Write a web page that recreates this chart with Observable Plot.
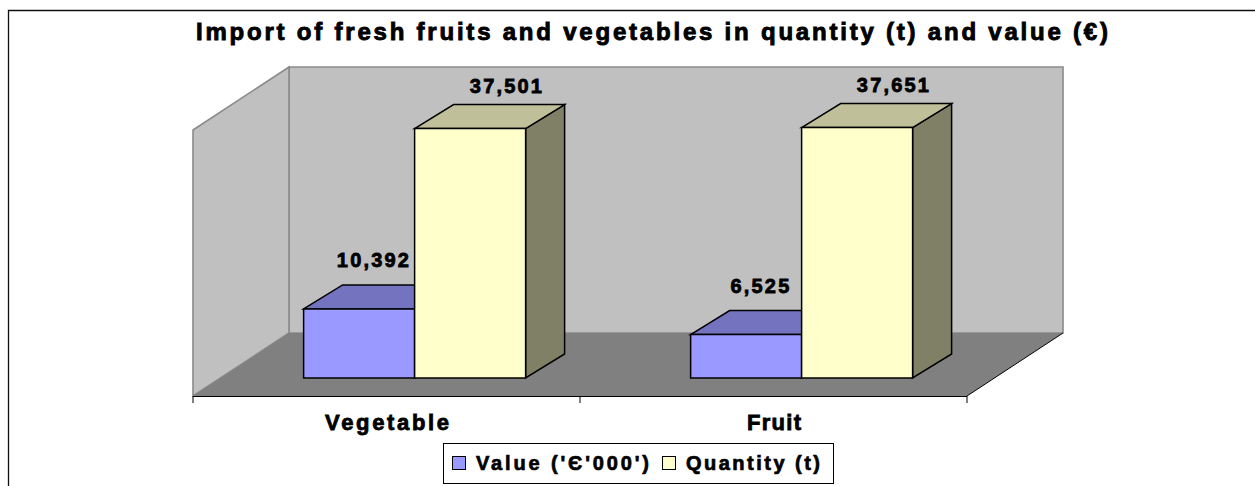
<!DOCTYPE html>
<html>
<head>
<meta charset="utf-8">
<script src="https://cdn.jsdelivr.net/npm/d3@7"></script>
<script src="https://cdn.jsdelivr.net/npm/@observablehq/plot@0.6"></script>
<style>
  body { margin: 0; background: #fff; }
  #chart { position: relative; width: 1255px; height: 486px; overflow: hidden; }
  #chart svg { display: block; }
</style>
</head>
<body>
<div id="chart"></div>
<script>
// ---- data ----
const chartTitle = "Import of fresh fruits and vegetables in quantity (t) and value (€)";
const categories = ["Vegetable", "Fruit"];
const seriesNames = ["Value ('Є'000')", "Quantity (t)"];
const valueThousandEuro = [10392, 6525];
const quantityTonnes = [37501, 37651];
const yMax = 40000;
const seriesColors = ["#9999FF", "#FFFFCC"];

const rows = categories.flatMap((c, i) => [
  {category: c, series: seriesNames[0], s: 0, amount: valueThousandEuro[i]},
  {category: c, series: seriesNames[1], s: 1, amount: quantityTonnes[i]}
]);

// ---- style / 3D projection constants ----
const FONT = "'Liberation Sans', Arial, Helvetica, sans-serif";
const WALL = {dx: 96, dy: -63};
const BAR_FRONT = {dx: 28, dy: -18};
const BAR_DEPTH = {dx: 39, dy: -24};
const BAR_START = 0.2135, BAR_WIDTH = 0.2868;
const fmt = d3.format(",");

function poly(g, pts, fill, stroke, sw) {
  g.append("path")
    .attr("d", "M" + pts.map(p => p[0] + "," + p[1]).join("L") + "Z")
    .attr("fill", fill)
    .attr("stroke", stroke || "none")
    .attr("stroke-width", sw || 0)
    .attr("stroke-linejoin", "miter");
}

function bandwidthOf(scales, dims) {
  if (scales.x && typeof scales.x.bandwidth === "function") return scales.x.bandwidth();
  return (dims.width - dims.marginLeft - dims.marginRight) / categories.length;
}

function walls(index, scales, values, dims) {
  const g = d3.create("svg:g");
  const L = dims.marginLeft, R = dims.width - dims.marginRight;
  const B = scales.y(0), T = scales.y(yMax);
  const {dx, dy} = WALL;
  poly(g, [[L + dx, T + dy], [R + dx, T + dy], [R + dx, B + dy], [L + dx, B + dy]], "#C0C0C0", "#8A8A8A", 1.6);
  poly(g, [[L, B], [L, T], [L + dx, T + dy], [L + dx, B + dy]], "#C0C0C0", "#8A8A8A", 1.6);
  poly(g, [[L, B], [R, B], [R + dx, B + dy], [L + dx, B + dy]], "#808080");
  g.append("line").attr("x1", R).attr("y1", B).attr("x2", R + dx).attr("y2", B + dy)
    .attr("stroke", "#000").attr("stroke-width", 1);
  const bw = bandwidthOf(scales, dims);
  const edges = categories.map(c => scales.x(c)).concat([scales.x(categories[categories.length - 1]) + bw]);
  for (const x of edges) {
    g.append("line").attr("x1", x).attr("x2", x).attr("y1", B).attr("y2", B + 7)
      .attr("stroke", "#000").attr("stroke-width", 1);
  }
  return g.node();
}

function bars3D(index, scales, values, dims) {
  const g = d3.create("svg:g");
  const bw = bandwidthOf(scales, dims);
  const {dx, dy} = BAR_DEPTH;
  for (const i of index) {
    const s = rows[i].s;
    const w = bw * BAR_WIDTH;
    const x0 = values.x[i] + bw * (BAR_START + s * BAR_WIDTH) + BAR_FRONT.dx;
    const x1 = x0 + w;
    const yb = values.y1[i] + BAR_FRONT.dy;
    const yt = values.y2[i] + BAR_FRONT.dy;
    const c = d3.rgb(values.fill[i]);
    const shade = k => d3.rgb(c.r * k, c.g * k, c.b * k).formatHex();
    poly(g, [[x1, yt], [x1 + dx, yt + dy], [x1 + dx, yb + dy], [x1, yb]], shade(0.5), "#000", 1.5);
    poly(g, [[x0, yt], [x0 + dx, yt + dy], [x1 + dx, yt + dy], [x1, yt]], shade(0.75), "#000", 1.5);
    poly(g, [[x0, yt], [x1, yt], [x1, yb], [x0, yb]], c.formatHex(), "#000", 1.5);
  }
  return g.node();
}

const labelStyle = {fontSize: 20, fontWeight: "bold", fill: "#000", lineAnchor: "bottom", text: d => fmt(d.amount)};

const svg = Plot.plot({
  width: 1255,
  height: 486,
  marginLeft: 193,
  marginRight: 288,
  marginTop: 130,
  marginBottom: 90,
  style: {fontFamily: FONT, background: "#fff", overflow: "visible"},
  x: {domain: categories, padding: 0, axis: null},
  y: {domain: [0, yMax], axis: null},
  color: {domain: seriesNames, range: seriesColors},
  marks: [
    Plot.ruleY([0], {render: walls}),
    Plot.barY(rows, {x: "category", y1: 0, y2: "amount", fill: "series", render: bars3D}),
    Plot.ruleY([0], {stroke: "#000", strokeWidth: 1.2}),
    Plot.text(rows.filter(d => d.s === 0), {...labelStyle, x: "category", y: "amount", dx: -13, dy: -60}),
    Plot.text(rows.filter(d => d.s === 1), {...labelStyle, x: "category", y: "amount", dx: 120, dy: -54}),
    Plot.text(categories, {x: d => d, frameAnchor: "bottom", dy: 33, lineAnchor: "bottom",
      fontSize: 22, fontWeight: "bold", fill: "#000", text: d => d})
  ]
});

const root = d3.select(svg);
// text weight / spacing tuning
root.selectAll("text").each(function () {
  const t = this.textContent;
  const sel = d3.select(this);
  if (/^[\d,]+$/.test(t)) sel.attr("letter-spacing", "2.2px").attr("stroke", "#000").attr("stroke-width", 0.8);
  if (t === "Vegetable") sel.attr("textLength", 124).attr("lengthAdjust", "spacing").attr("stroke", "#000").attr("stroke-width", 0.8);
  if (t === "Fruit") sel.attr("textLength", 54).attr("lengthAdjust", "spacing").attr("stroke", "#000").attr("stroke-width", 0.8);
});

// outer chart border
root.append("path").attr("d", "M8.5,490V10.5H1260").attr("fill", "none")
  .attr("stroke", "#111").attr("stroke-width", 1.3);

// title
root.append("text").attr("x", 652).attr("y", 40).attr("text-anchor", "middle")
  .attr("font-family", FONT).attr("font-size", 24).attr("font-weight", "bold").attr("fill", "#000")
  .attr("stroke", "#000").attr("stroke-width", 0.9)
  .attr("textLength", 912).attr("lengthAdjust", "spacing").text(chartTitle);

// legend
const lg = root.append("g").attr("font-family", FONT).attr("font-size", 20).attr("font-weight", "bold")
  .attr("text-anchor", "start");
lg.append("rect").attr("x", 443.5).attr("y", 443.5).attr("width", 390).attr("height", 40)
  .attr("fill", "#fff").attr("stroke", "#000").attr("stroke-width", 1);
const legendItems = [
  {x: 452.5, tx: 476, len: 173},
  {x: 662.5, tx: 686, len: 134}
];
legendItems.forEach((it, k) => {
  lg.append("rect").attr("x", it.x).attr("y", 456.5).attr("width", 13).attr("height", 13)
    .attr("fill", seriesColors[k]).attr("stroke", "#000").attr("stroke-width", 1);
  lg.append("text").attr("x", it.tx).attr("y", 469.5).attr("fill", "#000")
    .attr("stroke", "#000").attr("stroke-width", 0.7).attr("text-anchor", "start")
    .attr("textLength", it.len).attr("lengthAdjust", "spacing").text(seriesNames[k]);
});

document.getElementById("chart").appendChild(svg);
</script>
</body>
</html>
